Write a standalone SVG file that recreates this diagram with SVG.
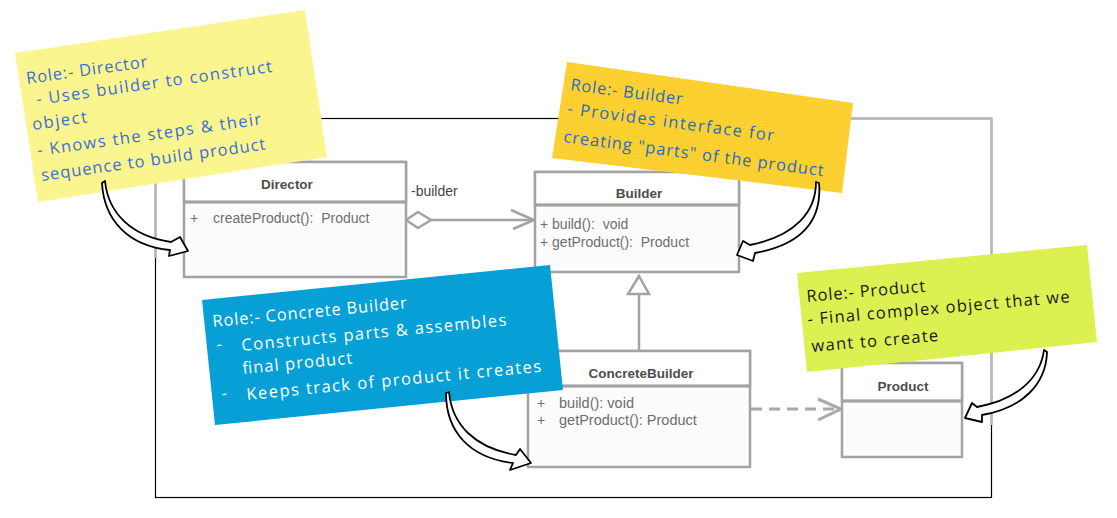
<svg xmlns="http://www.w3.org/2000/svg" width="1117" height="518" viewBox="0 0 1117 518">
<style>
.frame{fill:none;stroke:#000;stroke-width:1.2}
.fgray{stroke:#b4b4b4;stroke-width:2.5;fill:none}
.box{fill:#fcfcfc;stroke:#a3a3a3;stroke-width:2.5}
.hdr{fill:#ffffff;stroke:#a3a3a3;stroke-width:2.5}
.div{stroke:#a3a3a3;stroke-width:3}
.cname{font-family:"Liberation Sans",Arial,sans-serif;font-weight:bold;font-size:13.5px;fill:#4d4d4d;text-anchor:middle}
.meth{font-family:"Liberation Sans",Arial,sans-serif;font-size:14px;fill:#6e6e6e;white-space:pre}
.lbl{font-family:"Liberation Sans",Arial,sans-serif;font-size:14px;fill:#444}
.conn{fill:none;stroke:#a3a3a3;stroke-width:2.5}
.dash{fill:none;stroke:#a8a8a8;stroke-width:3;stroke-dasharray:11 7}
.curl{fill:#fff;stroke:#000;stroke-width:1.8;stroke-linejoin:round}
.note{font-family:"Open Sans","Noto Sans",sans-serif;font-size:16.5px}
.nb{fill:#3b6fd4}
.nb2{fill:#2a6cc0}
.nw{fill:#ffffff}
.nk{fill:#1a1a1a}
</style>

<g id="frame">
<rect class="frame" x="155.5" y="118.5" width="836" height="379"/>
<line class="fgray" x1="155.5" y1="118" x2="155.5" y2="258"/>
<line class="fgray" x1="991.5" y1="118" x2="991.5" y2="425"/>
<line class="fgray" x1="850" y1="118.5" x2="992" y2="118.5"/>
</g>

<g id="connectors">
<line class="conn" x1="431" y1="220" x2="534" y2="220"/>
<polygon points="406,220 418,212 431,220 418,228" fill="#fff" stroke="#a3a3a3" stroke-width="2.5"/>
<polyline class="conn" points="511,210 534,220 513,229"/>
<text class="lbl" x="411" y="196">-builder</text>
<line class="conn" x1="639" y1="294" x2="639" y2="351"/>
<polygon points="639,276 628,294 649,294" fill="#fff" stroke="#a3a3a3" stroke-width="2.5"/>
<line class="dash" x1="751" y1="409" x2="838" y2="409"/>
<polyline points="818,399 841,409 818,420" fill="none" stroke="#a8a8a8" stroke-width="3"/>
</g>

<g id="Director">
<rect class="box" x="184" y="162" width="222" height="115"/>
<rect class="hdr" x="184" y="162" width="222" height="40"/>
<line class="div" x1="184" y1="202" x2="406" y2="202"/>
<text class="cname" x="287" y="189">Director</text>
<text class="meth" x="190" y="223">+</text>
<text class="meth" x="213" y="223" xml:space="preserve">createProduct():  Product</text>
</g>

<g id="Builder">
<rect class="box" x="535" y="172" width="204" height="100"/>
<rect class="hdr" x="535" y="172" width="204" height="33"/>
<line class="div" x1="535" y1="205" x2="739" y2="205"/>
<text class="cname" x="639" y="198">Builder</text>
<text class="meth" x="540" y="229" xml:space="preserve">+ build():  void</text>
<text class="meth" x="540" y="247" xml:space="preserve">+ getProduct():  Product</text>
</g>

<g id="ConcreteBuilder">
<rect class="box" x="528" y="351" width="222" height="116"/>
<rect class="hdr" x="528" y="351" width="222" height="35"/>
<line class="div" x1="528" y1="386" x2="750" y2="386"/>
<text class="cname" x="641" y="378">ConcreteBuilder</text>
<text class="meth" x="537" y="408">+</text>
<text class="meth" x="559" y="408" style="font-size:14.5px">build(): void</text>
<text class="meth" x="537" y="425">+</text>
<text class="meth" x="559" y="425" style="font-size:14.5px">getProduct(): Product</text>
</g>

<g id="Product">
<rect class="box" x="842" y="363" width="120" height="94"/>
<rect class="hdr" x="842" y="363" width="120" height="38"/>
<line class="div" x1="842" y1="401" x2="962" y2="401"/>
<text class="cname" x="903" y="391">Product</text>
</g>

<g id="note-director">
<polygon points="15,53 305,10 327,157 38,202" fill="#fbf590"/>
<text class="note nb" transform="translate(27,84) rotate(-8)" textLength="122">Role:- Director</text>
<text class="note nb" transform="translate(37,105) rotate(-8)" textLength="238">- Uses builder to construct</text>
<text class="note nb" transform="translate(33,130) rotate(-8)" textLength="55">object</text>
<text class="note nb" transform="translate(38,156) rotate(-8)" textLength="226">- Knows the steps &amp; their</text>
<text class="note nb" transform="translate(42,181) rotate(-8)" textLength="226">sequence to build product</text>
</g>

<g id="note-builder">
<polygon points="567,62 853,103 842,193 552,158" fill="#fcd030"/>
<text class="note nb2" transform="translate(570,90) rotate(7.5)" textLength="113">Role:- Builder</text>
<text class="note nb2" transform="translate(567,114) rotate(7.5)" textLength="208">- Provides interface for</text>
<text class="note nb2" transform="translate(563,142) rotate(7.5)" textLength="262">creating "parts" of the product</text>
</g>

<g id="note-concrete">
<polygon points="202,300 550,265 563,390 215,425" fill="#07a0d6"/>
<text class="note nw" transform="translate(213,327) rotate(-5.5)" textLength="195">Role:- Concrete Builder</text>
<text class="note nw" transform="translate(217,350) rotate(-5.5)">-</text>
<text class="note nw" transform="translate(242,351) rotate(-5.5)" textLength="266">Constructs parts &amp; assembles</text>
<text class="note nw" transform="translate(243,374) rotate(-5.5)" textLength="110">final product</text>
<text class="note nw" transform="translate(222,399) rotate(-5.5)">-</text>
<text class="note nw" transform="translate(247,400) rotate(-5.5)" textLength="296">Keeps track of product it creates</text>
</g>

<g id="note-product">
<polygon points="797,273 1087,245 1097,342 807,372" fill="#dcf051"/>
<text class="note nk" transform="translate(807,302) rotate(-5)" textLength="119">Role:- Product</text>
<text class="note nk" transform="translate(808,325) rotate(-5)" textLength="263">- Final complex object that we</text>
<text class="note nk" transform="translate(812,352) rotate(-5)" textLength="127">want to create</text>
</g>

<g id="callouts">
<path class="curl" d="M105,181 C108,212 130,236 171,242 L180,237 L188,251 L169,256 L170,250 C128,246 104,220 102,183 Z"/>
<path class="curl" d="M816,182 C816,212 795,236 750,245 L743,241 L737,255 L753,261 L755,253 C805,244 822,218 819,183 Z"/>
<path class="curl" d="M449,392 C452,425 475,448 516,455 L520,449 L531,463 L510,470 L513,463 C470,458 446,432 446,393 Z"/>
<path class="curl" d="M1044,350 C1040,380 1015,400 977,407 L972,403 L965,418 L982,422 L982,415 C1022,408 1046,385 1047,352 Z"/>
</g>
</svg>
